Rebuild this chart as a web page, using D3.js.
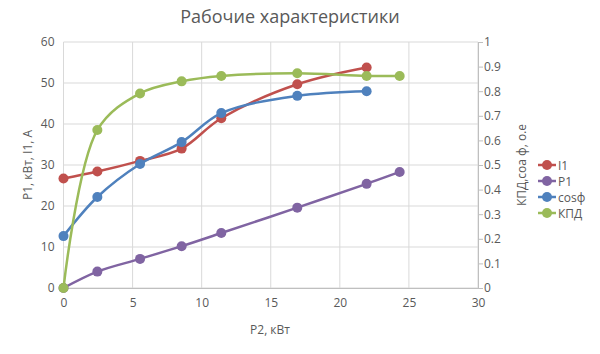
<!DOCTYPE html>
<html>
<head>
<meta charset="utf-8">
<script src="https://cdn.jsdelivr.net/npm/d3@7"></script>
<style>
  body { margin: 0; background: #fff; }
  text { font-family: "Open Sans", "Noto Sans", sans-serif; fill: #595959; }
</style>
</head>
<body>
<div id="chart"></div>
<script>
// P2, kW
const p2 = [0, 2.45, 5.54, 8.55, 11.42, 16.92, 21.94, 24.33];
// left axis series
const i1 = [26.7, 28.4, 31.0, 34.0, 41.4, 49.7, 53.8];
const p1 = [0, 4.0, 7.1, 10.2, 13.4, 19.6, 25.4, 28.3];
// right axis series
const cosf = [0.211, 0.37, 0.504, 0.593, 0.711, 0.781, 0.80];
const kpd = [0, 0.642, 0.791, 0.84, 0.862, 0.873, 0.862, 0.862];

const xTicks = [0, 5, 10, 15, 20, 25, 30];
const yTicks = [0, 10, 20, 30, 40, 50, 60];
const y2Ticks = [0, 0.1, 0.2, 0.3, 0.4, 0.5, 0.6, 0.7, 0.8, 0.9, 1];

const width = 600, height = 354;
const plotLeft = 63.5, plotRight = 478, plotTop = 42, plotBottom = 288;

const svg = d3.select('#chart').append('svg')
  .attr('width', width).attr('height', height);

const x = d3.scaleLinear().domain([0, 30]).range([plotLeft, plotRight]);
const y = d3.scaleLinear().domain([0, 60]).range([plotBottom, plotTop]);
const y2 = d3.scaleLinear().domain([0, 1]).range([plotBottom, plotTop]);

// grid
svg.append('g').selectAll('line').data(yTicks).enter().append('line')
  .attr('x1', plotLeft).attr('x2', plotRight)
  .attr('y1', d => y(d)).attr('y2', d => y(d))
  .attr('stroke', '#d9d9d9').attr('stroke-width', 1);
svg.append('g').selectAll('line').data(xTicks).enter().append('line')
  .attr('x1', d => x(d)).attr('x2', d => x(d))
  .attr('y1', plotTop).attr('y2', plotBottom)
  .attr('stroke', '#d9d9d9').attr('stroke-width', 1);

// axes
const xAxis = svg.append('g').attr('transform', 'translate(0,' + plotBottom + ')')
  .call(d3.axisBottom(x).tickValues(xTicks).tickSize(0).tickPadding(10));
xAxis.select('.domain').attr('stroke', '#bfbfbf');

const yAxis = svg.append('g').attr('transform', 'translate(' + plotLeft + ',0)')
  .call(d3.axisLeft(y).tickValues(yTicks).tickSize(0).tickPadding(9));
yAxis.select('.domain').remove();

const y2Axis = svg.append('g').attr('transform', 'translate(' + plotRight + ',0)')
  .call(d3.axisRight(y2).tickValues(y2Ticks).tickSize(5).tickPadding(1).tickFormat(d3.format('')));
y2Axis.select('.domain').attr('stroke', '#bfbfbf');
y2Axis.selectAll('.tick line').attr('stroke', '#bfbfbf');

svg.selectAll('.tick text').style('font-size', '12px').style('fill', '#595959');

// titles
svg.append('text').attr('x', 290).attr('y', 23).attr('text-anchor', 'middle')
  .style('font-size', '18px').text('Рабочие характеристики');
svg.append('text').attr('x', 270).attr('y', 334).attr('text-anchor', 'middle')
  .style('font-size', '12px').text('P2, кВт');
svg.append('text').attr('transform', 'translate(32,165) rotate(-90)').attr('text-anchor', 'middle')
  .style('font-size', '12px').text('P1, кВт, I1, А');
svg.append('text').attr('transform', 'translate(526,165) rotate(-90)').attr('text-anchor', 'middle')
  .style('font-size', '12px').text('КПД,соа ф, о.е');

// series
const series = [
  { name: 'I1', values: i1, scale: y, color: '#C0504D' },
  { name: 'P1', values: p1, scale: y, color: '#8064A2' },
  { name: 'cosф', values: cosf, scale: y2, color: '#4F81BD' },
  { name: 'КПД', values: kpd, scale: y2, color: '#9BBB59' }
];

series.forEach(function(s) {
  const pts = s.values.map((v, i) => [p2[i], v]);
  const line = d3.line().x(d => x(d[0])).y(d => s.scale(d[1])).curve(d3.curveCatmullRom.alpha(0.5));
  svg.append('path').datum(pts).attr('d', line)
    .attr('fill', 'none').attr('stroke', s.color).attr('stroke-width', 2.5);
  svg.append('g').selectAll('circle').data(pts).enter().append('circle')
    .attr('cx', d => x(d[0])).attr('cy', d => s.scale(d[1])).attr('r', 5)
    .attr('fill', s.color);
});

// legend
const legend = svg.append('g').attr('transform', 'translate(538,165)');
series.forEach(function(s, i) {
  const g = legend.append('g').attr('transform', 'translate(0,' + (i * 16) + ')');
  g.append('line').attr('x1', 0).attr('x2', 18).attr('stroke', s.color).attr('stroke-width', 2.5);
  g.append('circle').attr('cx', 9).attr('r', 5).attr('fill', s.color);
  g.append('text').attr('x', 20).attr('y', 4.5).style('font-size', '12px').text(s.name);
});
</script>
</body>
</html>
